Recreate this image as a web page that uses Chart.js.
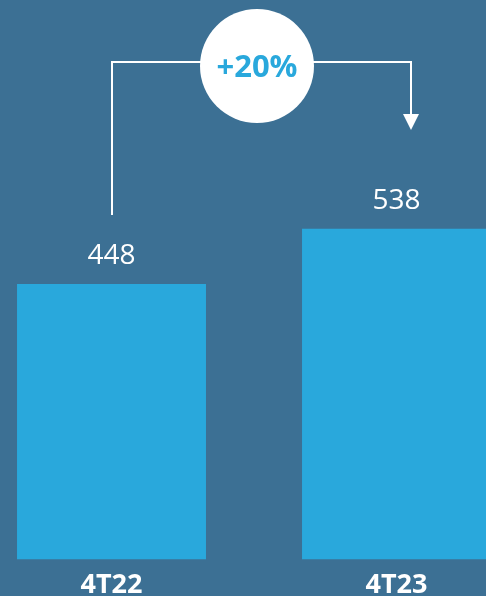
<!DOCTYPE html>
<html>
<head>
<meta charset="utf-8">
<script src="https://cdn.jsdelivr.net/npm/chart.js@4"></script>
<style>
  html, body { margin: 0; padding: 0; background: #3c7094; overflow: hidden; width: 486px; height: 596px; }
  #wrap { position: absolute; left: -31px; top: 0; width: 570px; height: 612px; }
</style>
</head>
<body>
<div id="wrap"><canvas id="grafico"></canvas></div>
<script>
const periodos = ['4T22', '4T23']
const valores = [448, 538]

const corBarra = '#29a8dc'

// rótulos de valor + colchete com a variação
const anotacoes = {
  id: 'anotacoes',
  afterDatasetsDraw(chart) {
    const ctx = chart.ctx
    const barras = chart.getDatasetMeta(0).data
    const b1 = barras[0]
    const b2 = barras[1]

    ctx.save()
    ctx.fillStyle = '#ffffff'
    ctx.font = '28px "Open Sans"'
    ctx.textAlign = 'center'
    ctx.textBaseline = 'alphabetic'
    barras.forEach((b, i) => {
      ctx.fillText(String(valores[i]), b.x, b.y - 20)
    })

    // colchete
    const xa = Math.round(b1.x)
    const xb = Math.round(b2.x) + 14
    const yTopo = 62
    const yBaixo = b1.y - 69
    const yPonta = 130
    ctx.strokeStyle = '#ffffff'
    ctx.lineWidth = 2
    ctx.beginPath()
    ctx.moveTo(xa, yBaixo)
    ctx.lineTo(xa, yTopo)
    ctx.lineTo(xb, yTopo)
    ctx.lineTo(xb, yPonta - 14)
    ctx.stroke()
    ctx.beginPath()
    ctx.moveTo(xb - 8, yPonta - 16)
    ctx.lineTo(xb + 8, yPonta - 16)
    ctx.lineTo(xb, yPonta)
    ctx.closePath()
    ctx.fill()

    // círculo com a variação
    const cx = (b1.x + b2.x) / 2 + 3
    const cy = 66
    ctx.beginPath()
    ctx.arc(cx, cy, 57, 0, Math.PI * 2)
    ctx.fill()
    const variacao = Math.round((valores[1] / valores[0] - 1) * 100)
    ctx.fillStyle = corBarra
    ctx.font = 'bold 31px "Open Sans"'
    ctx.textBaseline = 'middle'
    ctx.fillText('+' + variacao + '%', cx, cy + 2)
    ctx.restore()
  },
}

const ctx = document.getElementById('grafico').getContext('2d')
new Chart(ctx, {
  type: 'bar',
  data: {
    labels: periodos,
    datasets: [
      {
        data: valores,
        backgroundColor: corBarra,
        borderWidth: 0,
        categoryPercentage: 1,
        barPercentage: 0.663,
      },
    ],
  },
  options: {
    responsive: true,
    maintainAspectRatio: false,
    animation: false,
    layout: { padding: 0 },
    plugins: {
      legend: { display: false },
      tooltip: { enabled: false },
    },
    scales: {
      y: {
        display: false,
        min: 0,
        max: 910,
      },
      x: {
        grid: { display: false, drawTicks: false },
        border: { display: false },
        ticks: {
          color: '#ffffff',
          padding: 10,
          font: { family: 'Open Sans', size: 27, weight: 'bold' },
        },
      },
    },
  },
  plugins: [anotacoes],
})
</script>
</body>
</html>
